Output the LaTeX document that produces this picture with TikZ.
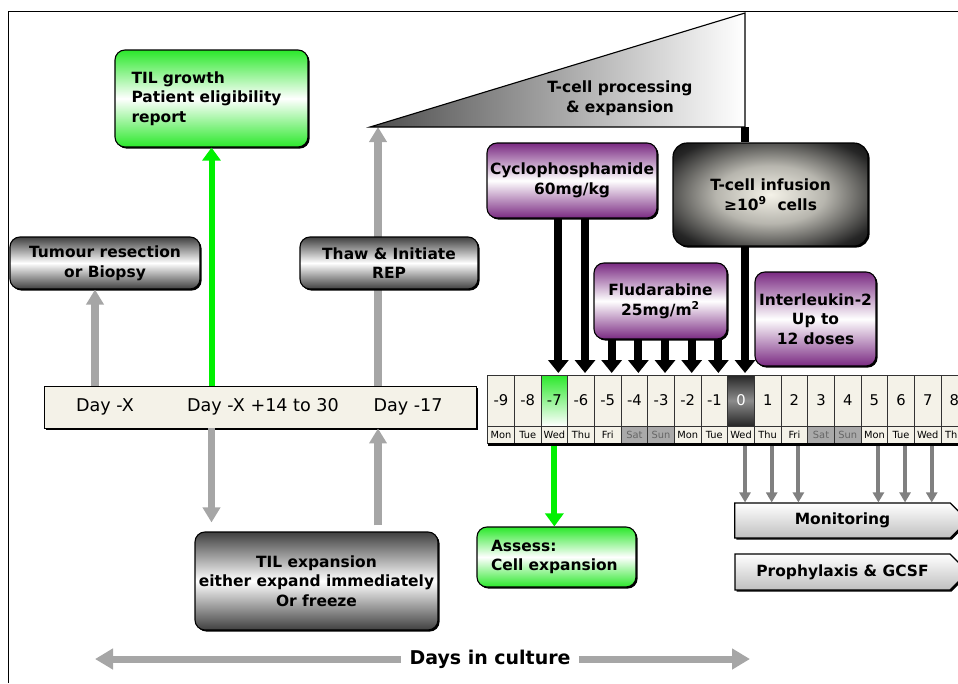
\documentclass[tikz,border=0pt]{standalone}
\usepackage{fontspec}
\setmainfont{DejaVu Sans}
\usepackage{tikz}
\usetikzlibrary{
  arrows.meta,
  positioning,
  shapes.symbols,
  shadows,
  backgrounds
}
\usepackage{xcolor}
\definecolor{tilgreen}{HTML}{2BE82B}
\definecolor{arrowgreen}{HTML}{00F000}
\definecolor{drugpurple}{HTML}{7A2A82}
\definecolor{cream}{HTML}{F4F2E8}
\definecolor{lightgrey}{HTML}{A6A6A6}
\definecolor{midgrey}{HTML}{808080}
\definecolor{wkendgrey}{HTML}{A9A9A9}
\pgfdeclareradialshading{infusion}{\pgfpoint{0bp}{0bp}}{%
  color(0bp)=(cream); color(14bp)=(cream!75!black);
  color(30bp)=(black!85); color(40bp)=(black); color(100bp)=(black)}
\tikzset{
  box/.style={
    rectangle,
    rounded corners=2.5mm,
    draw=black,
    line width=0.8pt,
    align=center,
    inner sep=0pt,
    font=\fontsize{11}{14}\selectfont\bfseries,
    drop shadow={shadow xshift=0.4mm, shadow yshift=-0.4mm, fill=black, opacity=1}
  },
  greybox/.style={box, top color=black!75, bottom color=black!75, middle color=white},
  greenbox/.style={box, top color=tilgreen, bottom color=tilgreen, middle color=white, align=left},
  drugbox/.style={box, top color=drugpurple, bottom color=drugpurple, middle color=white},
  infusionbox/.style={box, rounded corners=3.5mm, shading=infusion},
  sigbox/.style={
    signal,
    signal to=east,
    signal pointer angle=90,
    draw=black,
    line width=0.8pt,
    top color=white,
    bottom color=black!25,
    inner sep=0pt,
    minimum height=8.75mm,
    minimum width=58.25mm,
    font=\fontsize{11}{14}\selectfont\bfseries,
    drop shadow={shadow xshift=0.4mm, shadow yshift=-0.4mm, fill=black, opacity=1}
  },
  daytext/.style={font=\fontsize{12.5}{14}\selectfont, inner sep=0pt},
  numcell/.style={
    rectangle,
    draw=black!80,
    line width=0.4pt,
    fill=cream,
    minimum width=6.67mm,
    minimum height=12.75mm,
    inner sep=0pt,
    outer sep=0pt,
    font=\fontsize{10.5}{12}\selectfont
  },
  numgreen/.style={numcell, top color=tilgreen, bottom color=white},
  numzero/.style={numcell, top color=black!85, bottom color=black!85, middle color=black!45, text=white},
  wkcell/.style={
    rectangle,
    draw=black!80,
    line width=0.4pt,
    fill=cream,
    minimum width=6.67mm,
    minimum height=4.25mm,
    inner sep=0pt,
    outer sep=0pt,
    font=\fontsize{7}{8}\selectfont
  },
  wkendcell/.style={wkcell, fill=wkendgrey, text=black!60},
  greyarrow/.style={
    -{Triangle[length=3.75mm,width=4.25mm]},
    line width=1.8mm,
    draw=lightgrey
  },
  greenarrow/.style={
    -{Triangle[length=3.25mm,width=4.5mm]},
    line width=1.5mm,
    draw=arrowgreen
  },
  blackarrow/.style={
    -{Triangle[length=3.25mm,width=5mm]},
    line width=2mm,
    draw=black
  },
  monarrow/.style={
    -{Triangle[length=2.5mm,width=2.75mm]},
    line width=1mm,
    draw=midgrey
  },
  dayarrow/.style={
    -{Triangle[length=4.5mm,width=5mm]},
    line width=1.75mm,
    draw=lightgrey
  }
}

\begin{document}
\begin{tikzpicture}[x=0.25mm, y=-0.25mm]
\clip (0,0) rectangle (958,683);
\draw[line width=0.6pt] (8,683) -- (8,11) -- (958,11);

% left part: TIL culture
\node[greenbox, minimum width=48.25mm, minimum height=24.25mm, text width=40mm] (tilgrowth) at (211.5,98.5) {TIL growth\\Patient eligibility\\report};
\node[greybox, minimum width=47.5mm, minimum height=13mm] (tumour) at (105,263) {Tumour resection\\or Biopsy};
\node[greybox, minimum width=44.5mm, minimum height=13mm] (thaw) at (389,263) {Thaw \& Initiate\\REP};
\node[rectangle, draw=black, line width=0.6pt, fill=cream, minimum width=108mm, minimum height=10.5mm,
  drop shadow={shadow xshift=0.4mm, shadow yshift=-0.4mm, fill=black, opacity=1}] (daybar) at (260,407) {};
\node[daytext] (lblx) at (105,407) {Day -X};
\node[daytext] (lblrange) at (263,407) {Day -X +14 to 30};
\node[daytext] (lblthaw) at (408,407) {Day -17};
\node[greybox, minimum width=60.75mm, minimum height=24.5mm] (tilexp) at (316.5,581) {TIL expansion\\either expand immediately\\Or freeze};

% expansion wedge
\coordinate (triL) at (370,127);
\coordinate (triT) at (745,13);
\coordinate (triR) at (745,127);
\draw[line width=0.8pt, left color=black!70, right color=white] (triL) -- (triT) -- (triR) -- cycle;
\node[font=\fontsize{11}{14}\selectfont\bfseries, align=center] (tcp) at (620,98) {T-cell processing\\\& expansion};

\begin{scope}[on background layer]
\draw[greyarrow] ([xshift=-2.75mm]thaw.south |- daybar.north) -- ([xshift=-2.75mm]thaw.north |- triL);
\end{scope}
\draw[greyarrow] ([xshift=-2.5mm]tumour.south |- daybar.north) -- ([xshift=-2.5mm]tumour.south);
\draw[greenarrow] (tilgrowth.south |- daybar.north) -- (tilgrowth.south);
\draw[greyarrow, shorten >=2.25mm] (tilgrowth.south |- daybar.south) -- (tilgrowth.south |- tilexp.north);
\draw[greyarrow, shorten <=1.5mm] ([xshift=-2.75mm]thaw.south |- tilexp.north) -- ([xshift=-2.75mm]thaw.south |- daybar.south);

% treatment
\node[drugbox, minimum width=42.5mm, minimum height=18.75mm] (cyclo) at (572,180.5) {Cyclophosphamide\\60mg/kg};
\node[infusionbox, minimum width=48.75mm, minimum height=25.75mm, text=black] (tinf) at (770.5,194.5) {T-cell infusion\\≥10\textsuperscript{9}~ cells};
\node[drugbox, minimum width=33.25mm, minimum height=19mm] (flu) at (660.5,301) {Fludarabine\\25mg/m\textsuperscript{2}};
\node[drugbox, minimum width=30.25mm, minimum height=23.5mm] (il2) at (815.5,319) {Interleukin-2\\Up to\\12 doses};

% calendar
\foreach \n/\dname/\ns/\ws [count=\k from 0] in {
  -9/Mon/numcell/wkcell, -8/Tue/numcell/wkcell, -7/Wed/numgreen/wkcell,
  -6/Thu/numcell/wkcell, -5/Fri/numcell/wkcell, -4/Sat/numcell/wkendcell,
  -3/Sun/numcell/wkendcell, -2/Mon/numcell/wkcell, -1/Tue/numcell/wkcell,
  0/Wed/numzero/wkcell, 1/Thu/numcell/wkcell, 2/Fri/numcell/wkcell,
  3/Sat/numcell/wkendcell, 4/Sun/numcell/wkendcell, 5/Mon/numcell/wkcell,
  6/Tue/numcell/wkcell, 7/Wed/numcell/wkcell, 8/Thu/numcell/wkcell}
{
  \node[\ns] (d\k) at ({501+26.67*\k},400.5) {\n};
  \node[\ws] (w\k) at ({501+26.67*\k},434.5) {\dname};
}
\draw[line width=0.75mm] ([yshift=-0.4mm]w0.south west) -- ([yshift=-0.4mm]w17.south east);

\draw[line width=2mm] (triR) -- (triR |- tinf.north);
\foreach \k in {2,3}
  \draw[blackarrow, shorten >=0.5mm] ([xshift=1mm]d\k.north |- cyclo.south) -- ([xshift=1mm]d\k.north);
\foreach \k in {4,...,8}
  \draw[blackarrow, shorten >=0.5mm] ([xshift=1mm]d\k.north |- flu.south) -- ([xshift=1mm]d\k.north);
\draw[blackarrow, shorten >=0.5mm] ([xshift=1mm]d9.north |- tinf.south) -- ([xshift=1mm]d9.north);

\node[greenbox, minimum width=39.75mm, minimum height=15mm, text width=32.75mm] (assess) at (556.5,557) {Assess:\\Cell expansion};
\draw[greenarrow] ([yshift=-0.8mm]w2.south) -- (w2.south |- assess.north);

\node[sigbox] (mon) at (842.5,520.5) {Monitoring};
\node[sigbox, minimum height=9mm] (proph) at (842.5,572) {Prophylaxis \& GCSF};
\foreach \k in {9,10,11,14,15,16}
  \draw[monarrow] ([xshift=1mm,yshift=-0.8mm]w\k.south) -- ([xshift=1mm]w\k.south |- mon.north);

% time axis
\node[font=\fontsize{13.5}{16}\selectfont\bfseries, inner sep=0pt] (days) at (490,659) {Days in culture};
\coordinate (dleft) at (95,659);
\coordinate (dright) at (750,659);
\draw[dayarrow] ([xshift=-2mm]days.west) -- (dleft);
\draw[dayarrow] ([xshift=2mm]days.east) -- (dright);
\end{tikzpicture}
\end{document}
